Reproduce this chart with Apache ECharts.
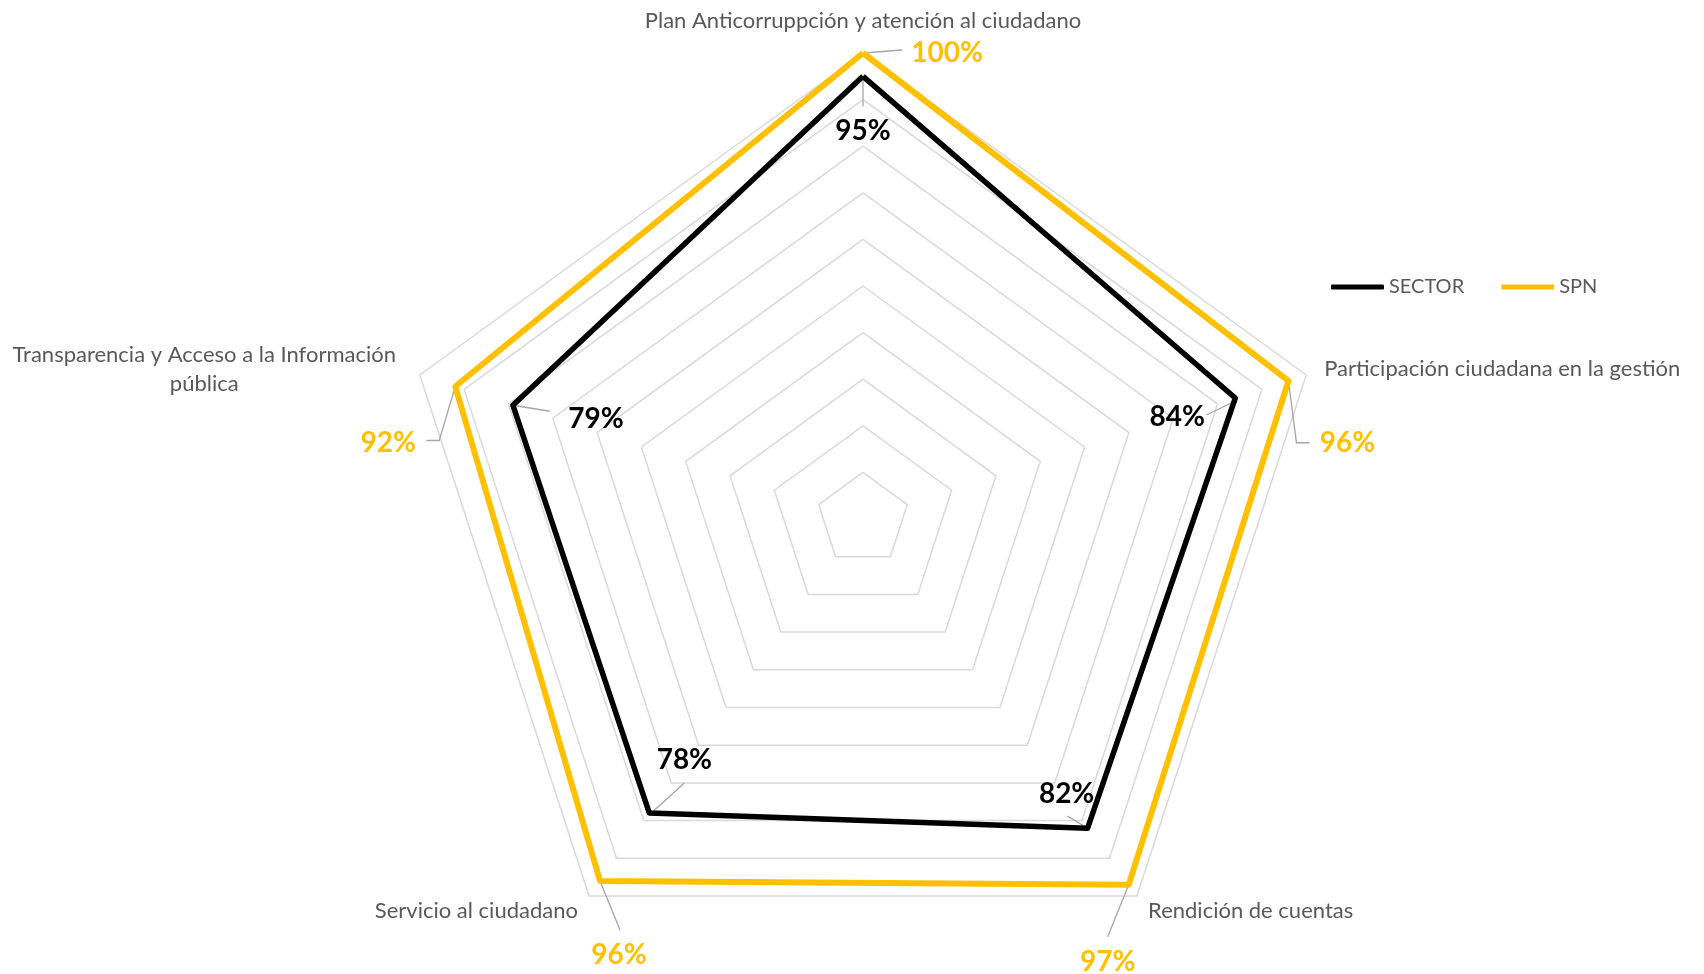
<!DOCTYPE html>
<html><head><meta charset="utf-8">
<script src="https://cdn.jsdelivr.net/npm/echarts@6/dist/echarts.min.js"></script>
<style>html,body{margin:0;padding:0;background:#fff}#c{width:1704px;height:974px}</style>
</head><body><div id="c"></div>
<script>
// ---- data (reference order, clockwise from top) ----
const categories = [
  'Plan Anticorruppción y atención al ciudadano',
  'Participación ciudadana en la gestión',
  'Rendición de cuentas',
  'Servicio al ciudadano',
  'Transparencia y Acceso a la Información pública'
];
const seriesNames = ['SECTOR', 'SPN'];
const sectorValues = [95, 84, 82, 78, 79];
const spnValues = [100, 96, 97, 96, 92];
const axisMin = 0;
const axisMax = 100;
const axisSplits = 10;

// ---- styling ----
const FONT = 'Lato, "Open Sans", sans-serif';
const GREY = '#595959';
const COLORS = {SECTOR: '#000000', SPN: '#FFC000'};
// ECharts lays indicators counter-clockwise; the reference runs clockwise
const order = [0, 4, 3, 2, 1];

// per-indicator name gap (reference order)
const nameGaps = [21, 19, 19, 19, 19];

// data-label offsets from each vertex (reference order)
const labelLayout = {
  SPN: [
    {dx: 84, dy: 0, line: [[0, 0], [39, -3]]},
    {dx: 59, dy: 62, line: [[0, 0], [8, 62], [21, 62]]},
    {dx: -21, dy: 77, line: [[0, 0], [-21, 52]]},
    {dx: 19, dy: 74, line: [[0, 0], [20, 49]]},
    {dx: -67, dy: 56, line: [[0, 0], [-16, 54], [-29, 54]]}
  ],
  SECTOR: [
    {dx: 0, dy: 55, line: [[0, 4], [0, 30]]},
    {dx: -58, dy: 19, line: [[-2, 4], [-29, 17]]},
    {dx: -21, dy: -34, line: [[-2, -1], [-20, -12]]},
    {dx: 35, dy: -53, line: [[2, 0], [35, -30]]},
    {dx: 83, dy: 14, line: [[0, 0], [37, 6]]}
  ]
};

const transName = categories[4];
const indicators = order.map(function (i) {
  return {name: categories[i], min: axisMin, max: axisMax, nameGap: nameGaps[i]};
});

const chart = echarts.init(document.getElementById('c'), null, {renderer: 'canvas'});
const option = {
  animation: false,
  backgroundColor: '#ffffff',
  legend: {
    data: seriesNames,
    left: 1326,
    top: 272,
    icon: 'roundRect',
    itemWidth: 53,
    itemHeight: 5,
    itemGap: 37,
    textStyle: {color: GREY, fontSize: 20, fontFamily: FONT}
  },
  radar: {
    center: [863, 519],
    radius: 466,
    startAngle: 90,
    splitNumber: axisSplits,
    shape: 'polygon',
    indicator: indicators,
    axisName: {
      color: GREY,
      fontSize: 22,
      fontFamily: FONT,
      formatter: function (name) {
        if (name === transName) {
          return '{a|Transparencia y Acceso a la Información}\n{a|pública}';
        }
        return name;
      },
      rich: {
        a: {width: 395, align: 'center', fontSize: 22, fontFamily: FONT, color: GREY, lineHeight: 29}
      }
    },
    nameGap: 18,
    axisLine: {show: false},
    axisTick: {show: false},
    axisLabel: {show: false},
    splitArea: {show: false},
    splitLine: {lineStyle: {color: '#d9d9d9', width: 1.5}}
  },
  series: [{
    type: 'radar',
    symbol: 'none',
    data: [
      {name: 'SECTOR', value: order.map(i => sectorValues[i]),
       lineStyle: {color: COLORS.SECTOR, width: 5.5}, itemStyle: {color: COLORS.SECTOR}},
      {name: 'SPN', value: order.map(i => spnValues[i]),
       lineStyle: {color: COLORS.SPN, width: 6}, itemStyle: {color: COLORS.SPN}}
    ]
  }]
};
chart.setOption(option);

// ---- data labels with leader lines, anchored through the radar's own scale ----
function addLabels() {
  let coord = null;
  try { coord = chart.getModel().getComponent('radar', 0).coordinateSystem; } catch (e) {}
  if (!coord) return;
  const graphics = [];
  const sets = {SECTOR: sectorValues, SPN: spnValues};
  seriesNames.forEach(function (sName) {
    const vals = sets[sName];
    vals.forEach(function (v, i) {
      const axisIdx = order.indexOf(i);
      const p = coord.dataToPoint(v, axisIdx);
      const L = labelLayout[sName][i];
      graphics.push({
        type: 'polyline', silent: true, z: 1,
        shape: {points: L.line.map(q => [p[0] + q[0], p[1] + q[1]])},
        style: {stroke: '#a6a6a6', lineWidth: 1.3, fill: null}
      });
      graphics.push({
        type: 'text', silent: true, z: 5,
        x: p[0] + L.dx, y: p[1] + L.dy,
        style: {
          text: v + '%', fill: COLORS[sName],
          font: 'bold 28px ' + FONT,
          align: 'center', verticalAlign: 'middle'
        }
      });
    });
  });
  chart.setOption({graphic: graphics});
}
addLabels();
</script>
</body></html>
